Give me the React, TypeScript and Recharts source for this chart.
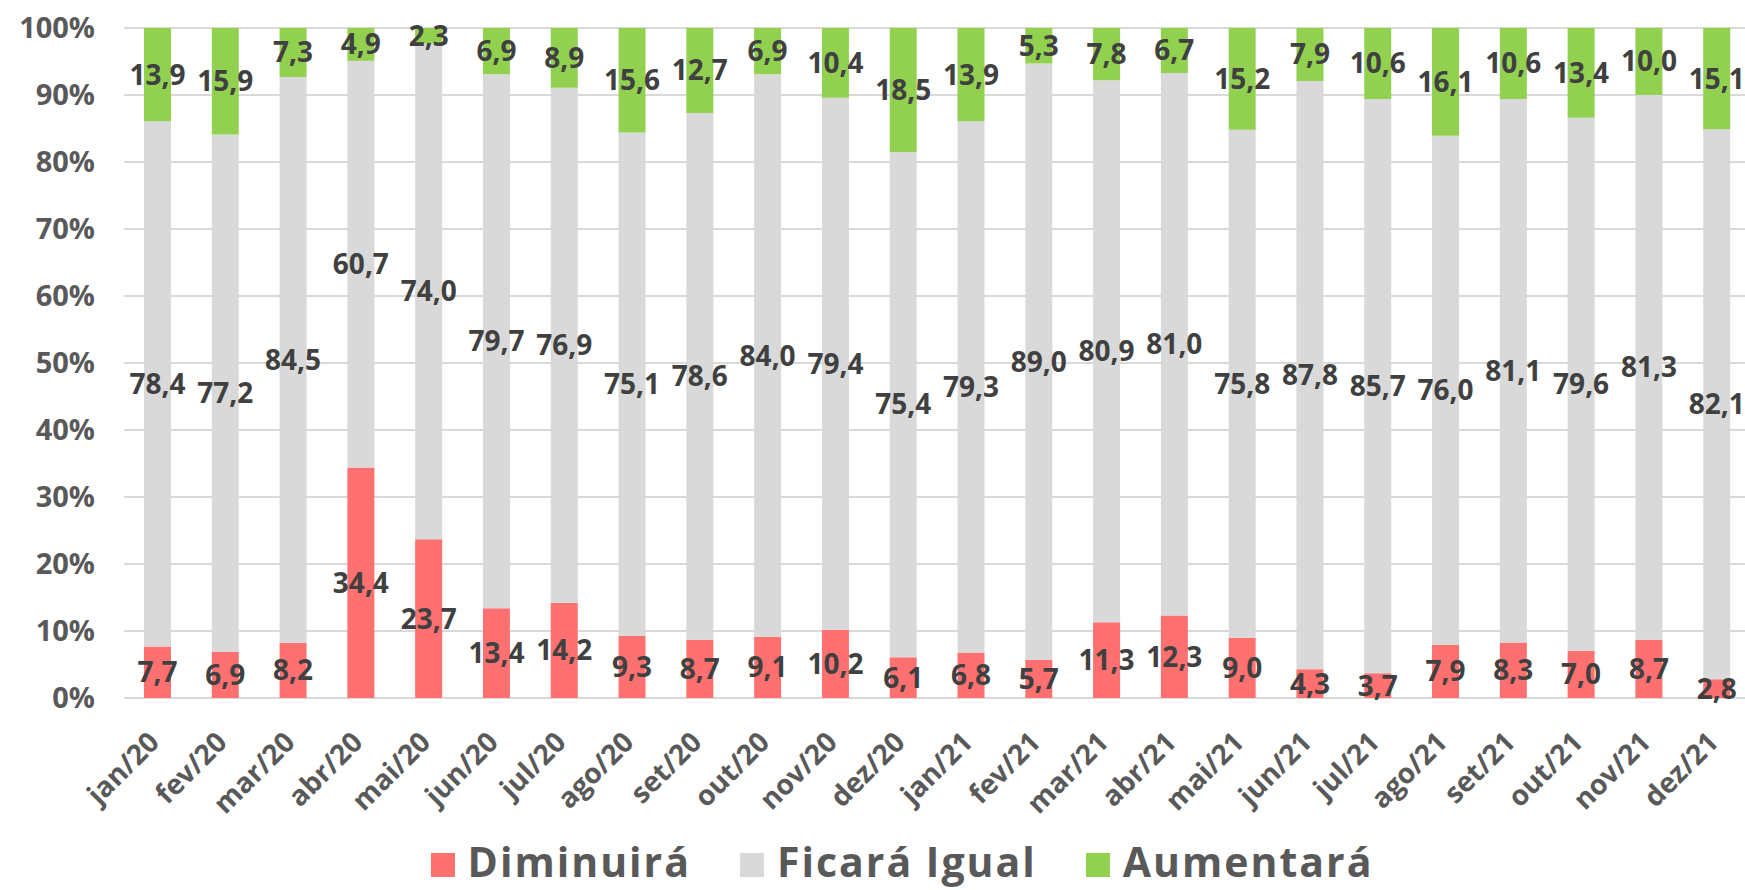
import React from 'react';
import { BarChart, Bar, XAxis, YAxis, CartesianGrid, LabelList } from 'recharts';

const months = [
  'jan/20', 'fev/20', 'mar/20', 'abr/20', 'mai/20', 'jun/20',
  'jul/20', 'ago/20', 'set/20', 'out/20', 'nov/20', 'dez/20',
  'jan/21', 'fev/21', 'mar/21', 'abr/21', 'mai/21', 'jun/21',
  'jul/21', 'ago/21', 'set/21', 'out/21', 'nov/21', 'dez/21',
];
const diminuira = [7.7, 6.9, 8.2, 34.4, 23.7, 13.4, 14.2, 9.3, 8.7, 9.1, 10.2, 6.1, 6.8, 5.7, 11.3, 12.3, 9.0, 4.3, 3.7, 7.9, 8.3, 7.0, 8.7, 2.8];
const ficaraIgual = [78.4, 77.2, 84.5, 60.7, 74.0, 79.7, 76.9, 75.1, 78.6, 84.0, 79.4, 75.4, 79.3, 89.0, 80.9, 81.0, 75.8, 87.8, 85.7, 76.0, 81.1, 79.6, 81.3, 82.1];
const aumentara = [13.9, 15.9, 7.3, 4.9, 2.3, 6.9, 8.9, 15.6, 12.7, 6.9, 10.4, 18.5, 13.9, 5.3, 7.8, 6.7, 15.2, 7.9, 10.6, 16.1, 10.6, 13.4, 10.0, 15.1];
const yTicks = [0, 10, 20, 30, 40, 50, 60, 70, 80, 90, 100];

const series = [
  { key: 'diminuira', name: 'Diminuirá', color: '#ff7070' },
  { key: 'igual', name: 'Ficará Igual', color: '#d9d9d9' },
  { key: 'aumentara', name: 'Aumentará', color: '#92d050' },
];

const data = months.map((m, i) => ({
  month: m,
  diminuira: diminuira[i],
  igual: ficaraIgual[i],
  aumentara: aumentara[i],
}));

const FONT = "'Open Sans', 'Noto Sans', sans-serif";

// 7.7 -> "7,7"
const fmt = (v: any) => Number(v).toFixed(1).replace('.', ',');

const MonthTick = (props: any) => {
  const { x, y, payload } = props;
  const ax = x + 3;
  const ay = y + 46;
  return (
    <text
      x={ax}
      y={ay}
      transform={`rotate(-45 ${ax} ${ay})`}
      textAnchor="end"
      fill="#595959"
      fontSize={28}
      fontWeight={700}
      fontFamily={FONT}
    >
      {payload.value}
    </text>
  );
};

export default function App() {
  return (
    <div style={{ position: 'absolute', left: 0, top: 0, width: 1745, height: 890, overflow: 'hidden', background: '#fff', fontFamily: FONT }}>
      <BarChart
        width={1760}
        height={890}
        data={data}
        margin={{ top: 28, right: 9, left: 0, bottom: 82 }}
        barSize={27}
      >
        <CartesianGrid vertical={false} stroke="#d9d9d9" strokeWidth={2} />
        <XAxis
          dataKey="month"
          axisLine={false}
          tickLine={false}
          tickSize={0}
          tickMargin={0}
          height={110}
          interval={0}
          tick={<MonthTick />}
        />
        <YAxis
          domain={[0, 100]}
          ticks={yTicks}
          width={124}
          axisLine={false}
          tickLine={false}
          tickSize={0}
          tickMargin={29}
          tickFormatter={(v) => `${v}%`}
          tick={{ fill: '#595959', fontSize: 29, fontWeight: 700, fontFamily: FONT }}
        />
        {series.map((s) => (
          <Bar key={s.key} dataKey={s.key} name={s.name} stackId="a" fill={s.color} isAnimationActive={false}>
            <LabelList
              dataKey={s.key}
              position="center"
              formatter={fmt}
              fill="#404040"
              fontSize={28}
              fontWeight={700}
              fontFamily={FONT}
            />
          </Bar>
        ))}
      </BarChart>
      {/* legenda em HTML, abaixo dos rótulos girados */}
      <div
        style={{
          position: 'absolute',
          left: 0,
          top: 839,
          width: 1804,
          display: 'flex',
          justifyContent: 'center',
          alignItems: 'center',
          gap: 49,
        }}
      >
        {series.map((s) => (
          <div key={s.key} style={{ display: 'flex', alignItems: 'center' }}>
            <span style={{ width: 24, height: 24, background: s.color, marginRight: 13, marginTop: 8 }} />
            <span style={{ fontSize: 41, fontWeight: 700, color: '#595959', lineHeight: '44px', letterSpacing: 2 }}>{s.name}</span>
          </div>
        ))}
      </div>
    </div>
  );
}
